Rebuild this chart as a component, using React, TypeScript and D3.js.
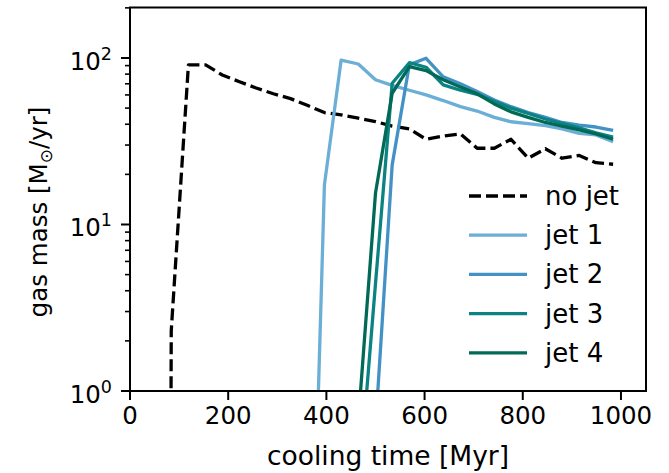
import * as d3 from "d3";

// cooling time grid [Myr]
const times = [50, 84, 119, 154, 188, 223, 257, 292, 327, 361, 396, 430, 465, 500, 534, 569, 603, 638, 673, 707, 742, 776, 811, 846, 880, 915, 949, 984];

// gas mass [Msun/yr], 0 = nothing yet
const noJet = [0, 2.3, 91, 91, 79, 72, 66, 61, 57, 52, 47, 45.5, 43.5, 41.5, 39, 37.5, 32.5, 34, 35, 28.7, 28.7, 32.5, 25, 28.5, 25, 26, 23.5, 23];
const jet1 = [0, 0, 0, 0, 0, 0, 0, 0, 0, 0.005, 17.3, 97, 92, 74, 68.5, 64, 60, 55.5, 51, 48, 44, 41.4, 40.3, 39.3, 37.5, 35.3, 34.5, 31.4];
const jet2 = [0, 0, 0, 0, 0, 0, 0, 0, 0, 0, 0, 0, 0, 0.6, 22.8, 91, 99.6, 77, 70, 63, 56, 51, 47, 44, 41, 39.5, 38.5, 36.7];
const jet3 = [0, 0, 0, 0, 0, 0, 0, 0, 0, 0, 0, 0, 0.24, 4.4, 70.5, 93.7, 88, 69, 64, 60.5, 55, 50, 46.5, 43, 40.5, 38, 35.5, 33.5];
const jet4 = [0, 0, 0, 0, 0, 0, 0, 0, 0, 0, 0, 0, 0.66, 15.4, 61.4, 88.7, 84, 74, 67, 61, 53, 47.5, 44, 41, 39, 37, 35, 32.5];

const seriesNames = ["no jet", "jet 1", "jet 2", "jet 3", "jet 4"];
const seriesValues = [noJet, jet1, jet2, jet3, jet4];
const colors = ["#000000", "#6baed6", "#4292c6", "#0b8383", "#006a56"];

const xTicks = [0, 200, 400, 600, 800, 1000];
const yTicks = [1, 10, 100];
const yTickExp = ["0", "1", "2"];

const W = 669;
const H = 473;
const left = 130;
const right = 646;
const top = 7.5;
const bottom = 391;
const font = "DejaVu Sans";

export default function App() {
  const x = d3.scaleLinear().domain([0, 1051]).range([left, right]);
  const y = d3.scaleLog().domain([1, 201]).range([bottom, top]);

  const line = d3
    .line<number>()
    .x((_, i) => x(times[i]))
    .y((v) => y(Math.max(v, 1e-30)));

  const minor: number[] = [];
  for (const dec of [1, 10, 100]) {
    for (let k = 2; k <= 9; k++) {
      const v = dec * k;
      if (v < 201) minor.push(v);
    }
  }

  return (
    <svg width={W} height={H} style={{ position: "absolute", left: 0, top: 0 }} fontFamily={font}>
      <rect width={W} height={H} fill="#fff" />
      <defs>
        <clipPath id="plot">
          <rect x={left} y={top} width={right - left} height={bottom - top} />
        </clipPath>
      </defs>

      <g clipPath="url(#plot)">
        {seriesValues.map((vals, i) => (
          <path
            key={seriesNames[i]}
            d={line(vals) ?? ""}
            fill="none"
            stroke={colors[i]}
            strokeWidth={3.3}
            strokeDasharray={i === 0 ? "12,5" : undefined}
            strokeLinejoin="round"
          />
        ))}
      </g>

      {/* spines */}
      <rect x={left} y={top} width={right - left} height={bottom - top} fill="none" stroke="#000" strokeWidth={2} />

      {/* x axis */}
      {xTicks.map((t) => (
        <g key={t} transform={`translate(${x(t)},${bottom})`}>
          <line y2={9} stroke="#000" strokeWidth={2} />
          <text y={33} textAnchor="middle" fontSize={24.5} fill="#000">
            {t}
          </text>
        </g>
      ))}
      <text x={(left + right) / 2} y={465} textAnchor="middle" fontSize={26.5} fill="#000">
        cooling time [Myr]
      </text>

      {/* y axis */}
      {minor.map((v) => (
        <line key={v} x1={left - 5} x2={left} y1={y(v)} y2={y(v)} stroke="#000" strokeWidth={1.6} />
      ))}
      {yTicks.map((v, i) => (
        <g key={v} transform={`translate(${left},${y(v)})`}>
          <line x1={-9} stroke="#000" strokeWidth={2} />
          <text x={-18} y={12} textAnchor="end" fontSize={24.5} fill="#000">
            10
            <tspan dy={-10} fontSize={17.5}>
              {yTickExp[i]}
            </tspan>
          </text>
        </g>
      ))}
      <text
        transform={`translate(46.5,212) rotate(-90)`}
        textAnchor="middle"
        fontSize={24.5}
        fill="#000"
      >
        gas mass [M
        <tspan dy={5} fontSize={17}>
          ⊙
        </tspan>
        <tspan dy={-5}>/yr]</tspan>
      </text>

      {/* legend */}
      {seriesNames.map((name, i) => {
        const ly = 196 + i * 39.2;
        return (
          <g key={name}>
            <line
              x1={469}
              x2={527}
              y1={ly}
              y2={ly}
              stroke={colors[i]}
              strokeWidth={3.3}
              strokeDasharray={i === 0 ? "12,5" : undefined}
            />
            <text x={545} y={ly + 9} fontSize={26} fill="#000">
              {name}
            </text>
          </g>
        );
      })}
    </svg>
  );
}
